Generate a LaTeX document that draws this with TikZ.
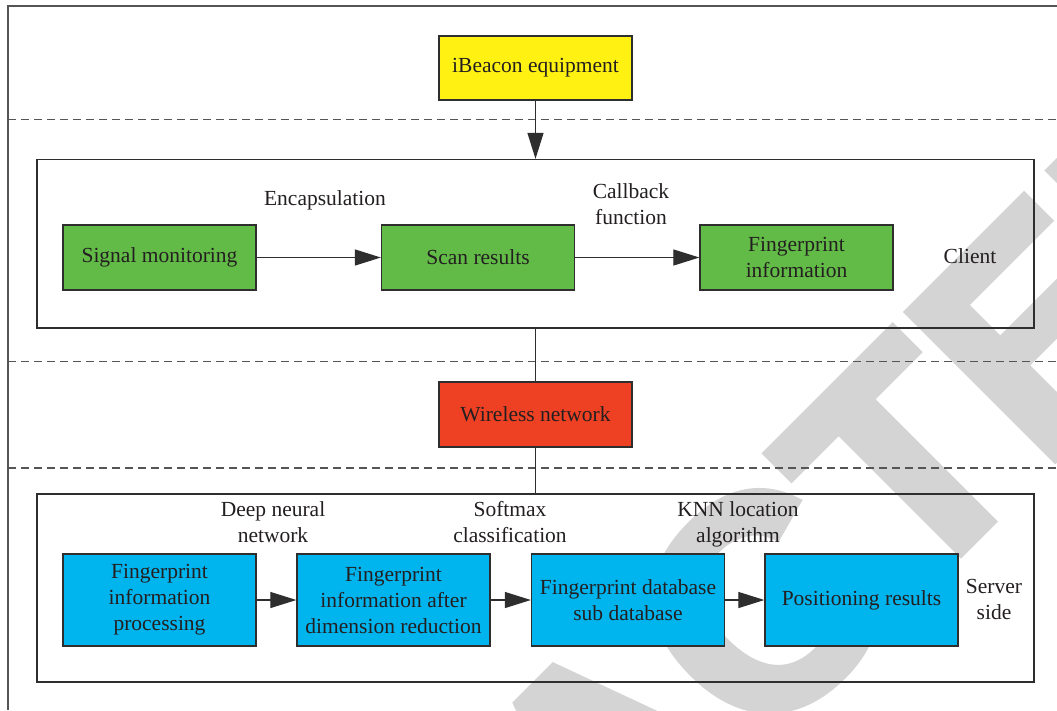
\documentclass[tikz,border=0pt]{standalone}
\usepackage{fontspec}
\setmainfont{Liberation Serif}
\newfontfamily\wmfont{Liberation Sans}[FakeBold=3, Kerning=Off]
\usetikzlibrary{arrows.meta}
\definecolor{ybox}{HTML}{FFF212}
\definecolor{gbox}{HTML}{62BB47}
\definecolor{rbox}{HTML}{EE4124}
\definecolor{bbox}{HTML}{00B4EE}
\definecolor{txt}{HTML}{231F20}
\definecolor{boxline}{HTML}{2E2E2E}
\definecolor{framecol}{HTML}{555555}
\definecolor{wmcol}{HTML}{D4D4D4}
\newcommand\fs{\fontsize{21.5}{26}\selectfont}
\tikzset{
  box/.style={draw=boxline, line width=1.3pt, minimum width=193pt, minimum height=65pt,
    inner sep=2pt, align=center, text=txt, font=\fs},
  tallbox/.style={box, minimum height=92pt},
  framebox/.style={draw=boxline, line width=1.3pt, inner sep=0pt},
  lbl/.style={align=center, text=txt, font=\fs, inner sep=0pt},
  arr/.style={draw=boxline, line width=1.2pt, -{Triangle[length=26pt,width=16pt]}},
  conn/.style={draw=boxline, line width=1.2pt},
  sepline/.style={draw=framecol, line width=1.2pt, dash pattern=on 8pt off 5pt},
  outer/.style={draw=framecol, line width=1.3pt},
}
\begin{document}
\begin{tikzpicture}[x=1pt, y=-1pt]
\useasboundingbox (0,0) rectangle (1057,710);
\fill[white] (0,0) rectangle (1057,710);
% watermark
\begin{scope}
  \clip (0,0) rectangle (1057,710);
  \node[rotate=45, anchor=base west, text=wmcol, font=\wmfont\bfseries\fontsize{300}{300}\selectfont, inner sep=0pt] (wmark) at (27.6,1485.6) {RETRACTED};
\end{scope}
% outer frame
\coordinate (o1) at (8,710);
\coordinate (o2) at (8,6);
\coordinate (o3) at (1057,6);
\draw[outer] (o1) -- (o2) -- (o3);
% separators
\coordinate (s1l) at (8,119.5);  \coordinate (s1r) at (1057,119.5);
\coordinate (s2l) at (8,361.5);  \coordinate (s2r) at (1057,361.5);
\coordinate (s3l) at (8,468);    \coordinate (s3r) at (1057,468);
\draw[sepline] (s1l) -- (s1r);
\draw[sepline] (s2l) -- (s2r);
\draw[sepline] (s3l) -- (s3r);
% frames
\node[framebox, minimum width=997pt, minimum height=168.5pt] (client) at (535.5,243.75) {};
\node[framebox, minimum width=997pt, minimum height=188pt] (server) at (535.5,588) {};
% top
\node[box, fill=ybox, minimum height=64pt] (ibeacon) at (535.5,68) {iBeacon equipment};
% client row
\node[box, fill=gbox] (sig) at (159.5,257.5) {Signal monitoring};
\node[box, fill=gbox] (scan) at (478,257.5) {Scan results};
\node[box, fill=gbox] (fpi) at (796.5,257.5) {Fingerprint\\information};
\node[lbl, anchor=base] (encap) at (325,205.7) {Encapsulation};
\node[lbl] (callback) at (631,204.6) {Callback\\function};
\node[lbl, anchor=base] (clientlbl) at (970,263.3) {Client};
% wireless
\node[box, fill=rbox] (wireless) at (535.5,414.5) {Wireless network};
% server row
\node[tallbox, fill=bbox] (b1) at (159.5,600) {Fingerprint\\information\\processing};
\node[tallbox, fill=bbox] (b2) at (393.5,600) {Fingerprint\\information after\\dimension reduction};
\node[tallbox, fill=bbox] (b3) at (628,600) {Fingerprint database\\sub database};
\node[tallbox, fill=bbox] (b4) at (861.5,600) {Positioning results};
\node[lbl] (dnn) at (273,522) {Deep neural\\network};
\node[lbl] (softmax) at (510,522) {Softmax\\classification};
\node[lbl] (knn) at (738,524.5) {KNN location\\algorithm};
\node[lbl] (serverlbl) at (994,599.1) {Server\\side};
% connectors
\draw[arr] (ibeacon.south) -- (ibeacon.south |- client.north);
\draw[conn] (client.south) -- (wireless.north);
\draw[conn] (wireless.south) -- (server.north);
\draw[arr] (sig) -- (scan);
\draw[arr] (scan) -- (fpi);
\draw[arr] (b1) -- (b2);
\draw[arr] (b2) -- (b3);
\draw[arr] (b3) -- (b4);
\end{tikzpicture}
\end{document}
